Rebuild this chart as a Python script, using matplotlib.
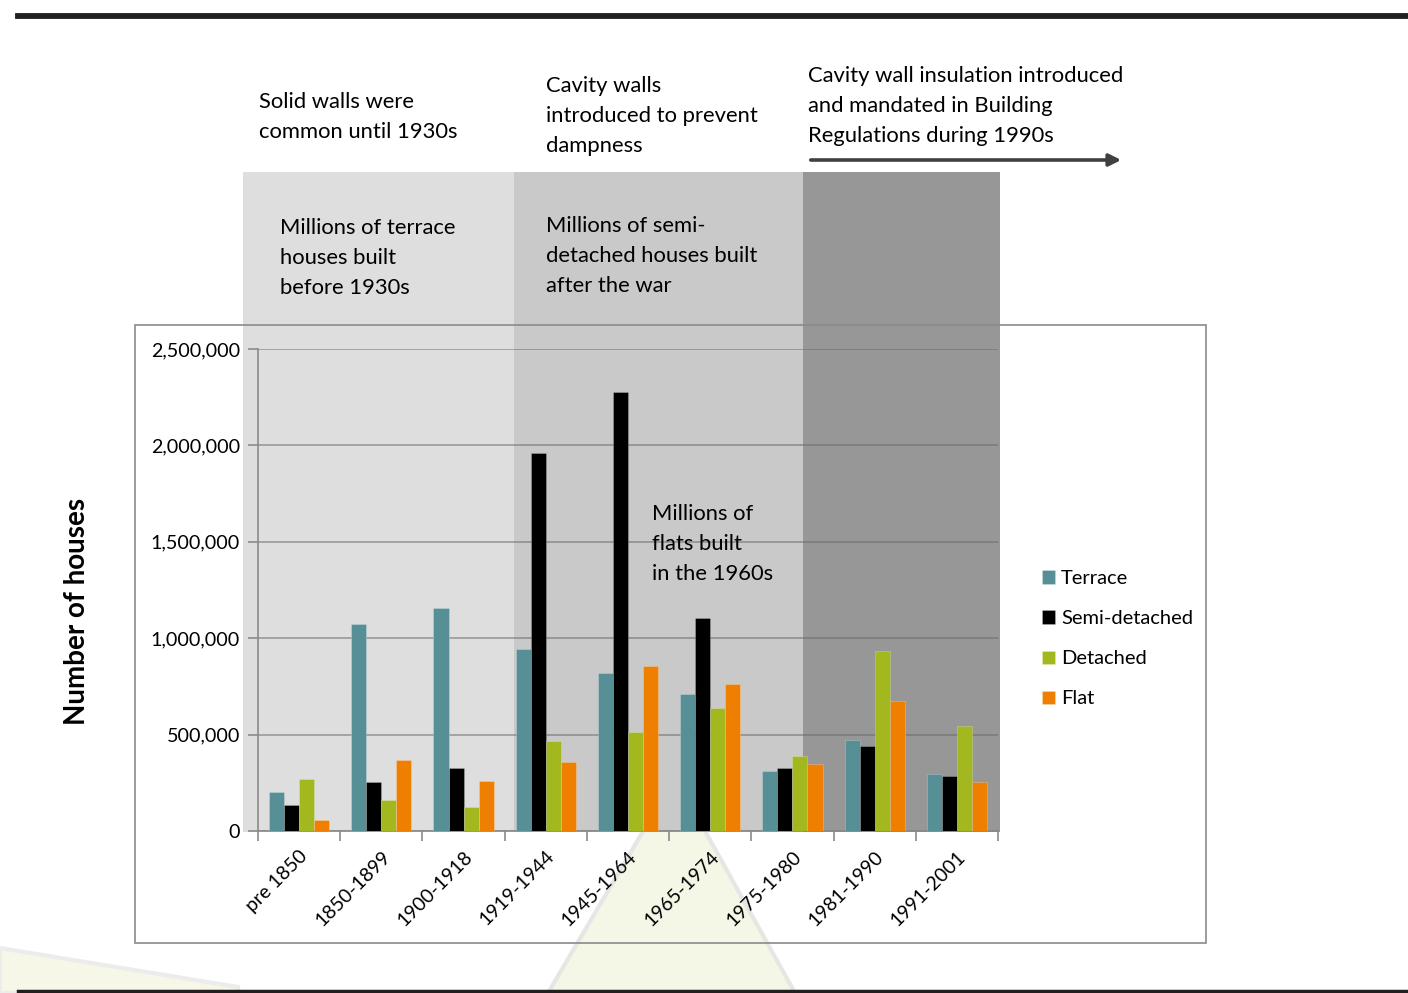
import matplotlib.pyplot as plt
import matplotlib.patches as mpatches
import matplotlib.lines as mlines
import numpy as np
from matplotlib.ticker import FuncFormatter

# Housing stock by construction period
periods = ['pre 1850', '1850-1899', '1900-1918', '1919-1944', '1945-1964',
           '1965-1974', '1975-1980', '1981-1990', '1991-2001']
terrace = [200000, 1075000, 1157000, 944000, 821000, 709000, 310000, 472000, 296000]
semi_detached = [133000, 252000, 327000, 1960000, 2277000, 1103000, 325000, 441000, 284000]
detached = [271000, 161000, 123000, 465000, 512000, 636000, 389000, 935000, 543000]
flat = [59000, 367000, 261000, 356000, 854000, 764000, 349000, 673000, 256000]

series = [('Terrace', terrace, '#568f96'),
          ('Semi-detached', semi_detached, '#000000'),
          ('Detached', detached, '#a2b81e'),
          ('Flat', flat, '#ee7f00')]

plt.rcParams['font.family'] = ['Lato', 'DejaVu Sans']

W, H = 1408, 993
fig = plt.figure(figsize=(W / 100, H / 100), dpi=100)


def fx(x):
    return x / W


def fy(y):
    return 1 - y / H


def frect(x0, y0, x1, y1, **kw):
    # rectangle given in pixel corners, drawn on the figure
    r = mpatches.Rectangle((fx(x0), fy(y1)), fx(x1) - fx(x0), fy(y0) - fy(y1),
                           transform=fig.transFigure, **kw)
    fig.add_artist(r)
    return r


def fpoly(pts, **kw):
    p = mpatches.Polygon([(fx(x), fy(y)) for x, y in pts], closed=True,
                         transform=fig.transFigure, **kw)
    fig.add_artist(p)
    return p


# chart frame
frect(135, 325, 1206, 943, facecolor='white', edgecolor='none', zorder=1)

# faint watermark shapes in the page background
fpoly([(548, 993), (675, 777), (795, 993)], facecolor='#f4f6e6',
      edgecolor='#e6e7e4', lw=3, zorder=1.5)
fpoly([(0, 948), (238, 987), (238, 993), (0, 993)], facecolor='#f6f7e6',
      edgecolor='#ececec', lw=3, zorder=1.5)

# era bands
frect(243, 172, 514, 832, facecolor='#dedede', edgecolor='none', zorder=2)
frect(514, 172, 803, 832, facecolor='#c9c9c9', edgecolor='none', zorder=2)
frect(803, 172, 1000, 832, facecolor='#979797', edgecolor='none', zorder=2)

frect(135, 325, 1206, 943, facecolor='none', edgecolor='#8a8a8a', lw=1.2, zorder=3)

# page rules
fig.add_artist(mlines.Line2D([fx(18), 1], [fy(15.5), fy(15.5)], color='#231f20',
                             lw=4.2, transform=fig.transFigure, zorder=5))
fig.add_artist(mlines.Line2D([fx(18), 1], [fy(991), fy(991)], color='#231f20',
                             lw=2.5, transform=fig.transFigure, zorder=5))

ax = fig.add_axes([fx(258), fy(831), fx(998) - fx(258), fy(349) - fy(831)])
ax.set_facecolor('none')
ax.set_zorder(4)

x = np.arange(len(periods))
bw = 0.183
for i, (name, vals, col) in enumerate(series):
    ax.bar(x + (i - 1.5) * bw, vals, bw, color=col, label=name,
           edgecolor=(1, 1, 1, 0.25), linewidth=0.6, zorder=3)

ax.set_xlim(-0.5, len(periods) - 0.5)
ax.set_ylim(0, 2500000)
ax.set_yticks(np.arange(0, 2500001, 500000))
ax.yaxis.set_major_formatter(FuncFormatter(lambda v, p: f'{int(v):,}'))
ax.grid(axis='y', color='#6a6a6a', alpha=0.55, lw=1.3, zorder=1)
ax.set_axisbelow(True)

ax.set_xticks(np.arange(-0.5, len(periods), 1))
ax.set_xticklabels([])
ax.set_xticks(x, minor=True)
ax.set_xticklabels(periods, minor=True, rotation=45, ha='right', va='top',
                   rotation_mode='anchor', fontsize=14)
ax.tick_params(axis='x', which='minor', length=0, pad=12)
ax.tick_params(axis='x', which='major', length=7, color='#8a8a8a', width=1.2)
ax.tick_params(axis='y', length=7, color='#8a8a8a', width=1.2, labelsize=14.2, pad=6)

for s in ['top', 'right']:
    ax.spines[s].set_visible(False)
for s in ['left', 'bottom']:
    ax.spines[s].set_color('#8a8a8a')
    ax.spines[s].set_linewidth(1.2)

fig.text(fx(77), fy(611), 'Number of houses', rotation=90, ha='center', va='center',
         fontsize=20, fontweight='bold')

# notes above and inside the chart
note = dict(fontsize=15.8, ha='left', va='center', linespacing=1.6, zorder=6)
fig.text(fx(259), fy(117), 'Solid walls were\ncommon until 1930s', **note)
fig.text(fx(546), fy(116), 'Cavity walls\nintroduced to prevent\ndampness', **note)
fig.text(fx(808), fy(106), 'Cavity wall insulation introduced\nand mandated in Building\n'
         'Regulations during 1990s', **note)
fig.text(fx(280), fy(258), 'Millions of terrace\nhouses built\nbefore 1930s', **note)
fig.text(fx(546), fy(256), 'Millions of semi-\ndetached houses built\nafter the war', **note)
fig.text(fx(652), fy(544), 'Millions of\nflats built\nin the 1960s', **note)

fig.add_artist(mpatches.FancyArrowPatch((fx(808), fy(160)), (fx(1124), fy(160)),
                                        transform=fig.transFigure, arrowstyle='-|>',
                                        mutation_scale=18, color='#404040', lw=2.6,
                                        zorder=6))

handles, labels = ax.get_legend_handles_labels()
fig.legend(handles, labels, loc='upper left', bbox_to_anchor=(fx(1042), fy(570)),
           frameon=False, fontsize=14.5, handlelength=0.65, handleheight=0.65,
           handletextpad=0.3, labelspacing=1.15, borderpad=0, borderaxespad=0)

fig.savefig('out.png', dpi=100)
